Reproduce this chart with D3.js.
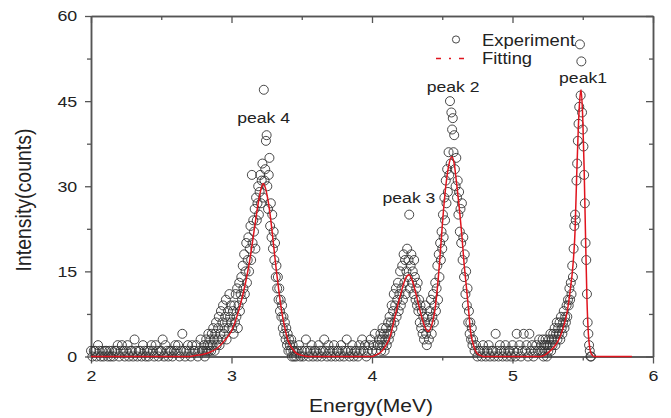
<!DOCTYPE html>
<html>
<head>
<meta charset="utf-8">
<script src="https://cdn.jsdelivr.net/npm/d3@7"></script>
<style>
  body { margin: 0; background: #fff; }
  text { font-family: "Liberation Sans", Arial, sans-serif; fill: #222; }
</style>
</head>
<body>
<script>
// energy (MeV), counts
var baseLeft = [[2.00,1],[2.01,0],[2.02,1],[2.03,1],[2.04,0],[2.05,2],[2.06,1],[2.07,0],[2.08,1],[2.09,0],
  [2.10,1],[2.11,1],[2.12,0],[2.13,1],[2.14,0],[2.15,1],[2.16,0],[2.17,1],[2.18,1],[2.19,2],
  [2.20,0],[2.21,1],[2.22,2],[2.23,1],[2.24,0],[2.25,1],[2.26,2],[2.27,0],[2.28,1],[2.29,1],
  [2.30,0],[2.31,3],[2.32,1],[2.33,0],[2.34,1],[2.35,1],[2.36,0],[2.37,2],[2.38,1],[2.39,0],
  [2.40,1],[2.41,0],[2.42,1],[2.43,2],[2.44,1],[2.45,0],[2.46,2],[2.47,1],[2.48,0],[2.49,1],
  [2.50,1],[2.51,3],[2.52,0],[2.53,2],[2.54,1],[2.55,0],[2.56,1],[2.57,1],[2.58,0],[2.59,1],
  [2.60,2],[2.61,1],[2.62,2],[2.63,0],[2.64,1],[2.65,4],[2.66,1],[2.67,0],[2.68,1],[2.69,2],
  [2.70,1],[2.71,0],[2.72,2],[2.73,1],[2.74,1],[2.75,2],[2.76,0],[2.77,1],[2.78,3],[2.79,1]];

var rise4 = [[2.800,1],[2.805,2],[2.810,0],[2.815,1],[2.820,3],[2.825,1],[2.830,2],[2.835,4],[2.840,1],[2.845,2],
  [2.850,3],[2.855,1],[2.860,4],[2.865,2],[2.870,5],[2.875,3],[2.880,1],[2.885,4],[2.890,6],[2.895,2],
  [2.900,3],[2.905,5],[2.910,7],[2.915,2],[2.920,4],[2.925,8],[2.930,3],[2.935,6],[2.940,9],[2.945,4],
  [2.950,5],[2.955,7],[2.960,10],[2.965,3],[2.970,6],[2.975,8],[2.980,5],[2.985,11],[2.990,7],[2.995,9],[3.000,6]];

var peak4 = [[3.005,5],[3.010,8],[3.015,4],[3.020,9],[3.025,6],[3.030,11],[3.035,7],[3.040,12],[3.045,5],[3.050,9],
  [3.055,13],[3.060,8],[3.065,11],[3.070,14],[3.075,10],[3.080,16],[3.085,12],[3.090,18],[3.095,11],[3.100,15],
  [3.105,20],[3.110,13],[3.115,17],[3.120,21],[3.125,15],[3.130,19],[3.135,23],[3.140,17],[3.145,32],[3.150,20],
  [3.155,24],[3.160,22],[3.165,26],[3.170,19],[3.175,28],[3.180,24],[3.185,27],[3.190,30],[3.195,25],[3.200,29],
  [3.205,32],[3.210,27],[3.215,31],[3.220,34],[3.225,28],[3.230,47],[3.235,31],[3.240,33],[3.245,38],[3.250,39],
  [3.255,30],[3.260,26],[3.265,32],[3.270,35],[3.275,23],[3.280,27],[3.285,21],[3.290,25],[3.295,19],[3.300,22],
  [3.305,17],[3.310,20],[3.315,14],[3.320,16],[3.325,12],[3.330,14],[3.335,10],[3.340,12],[3.345,8],[3.350,10],
  [3.355,7],[3.360,9],[3.365,5],[3.370,7],[3.375,4],[3.380,6],[3.385,3],[3.390,5],[3.395,2],[3.400,4],
  [3.405,1],[3.410,3],[3.415,2],[3.420,1],[3.425,3],[3.430,0],[3.435,2],[3.440,1],[3.445,0],[3.450,1]];

var valley = [[3.46,0],[3.47,1],[3.48,2],[3.49,0],[3.50,1],[3.51,0],[3.52,1],[3.53,3],[3.54,1],[3.55,0],
  [3.56,1],[3.57,2],[3.58,0],[3.59,1],[3.60,1],[3.61,0],[3.62,2],[3.63,1],[3.64,0],[3.65,1],
  [3.66,3],[3.67,1],[3.68,0],[3.69,2],[3.70,1],[3.71,0],[3.72,1],[3.73,2],[3.74,0],[3.75,1],
  [3.76,1],[3.77,0],[3.78,2],[3.79,1],[3.80,0],[3.81,1],[3.82,3],[3.83,1],[3.84,0],[3.85,1],
  [3.86,2],[3.87,0],[3.88,1],[3.89,1],[3.90,0],[3.91,2],[3.92,1],[3.93,3],[3.94,1],[3.95,2],
  [3.96,0],[3.97,1],[3.98,2],[3.99,3],[4.00,1],[4.01,2],[4.02,4],[4.03,1],[4.04,2],[4.05,3]];

var peak32 = [[4.055,2],[4.060,4],[4.065,1],[4.070,3],[4.075,5],[4.080,2],[4.085,4],[4.090,1],[4.095,3],[4.100,5],
  [4.105,2],[4.110,4],[4.115,6],[4.120,3],[4.125,7],[4.130,4],[4.135,6],[4.140,9],[4.145,5],[4.150,8],
  [4.155,11],[4.160,6],[4.165,9],[4.170,12],[4.175,7],[4.180,10],[4.185,13],[4.190,8],[4.195,11],[4.200,15],
  [4.205,9],[4.210,12],[4.215,16],[4.220,10],[4.225,18],[4.230,13],[4.235,17],[4.240,11],[4.245,15],[4.250,19],
  [4.255,14],[4.260,17],[4.265,25],[4.270,12],[4.275,16],[4.280,18],[4.285,13],[4.290,15],[4.295,11],[4.300,17],
  [4.305,14],[4.310,10],[4.315,12],[4.320,9],[4.325,13],[4.330,8],[4.335,10],[4.340,6],[4.345,9],[4.350,5],
  [4.355,8],[4.360,4],[4.365,7],[4.370,3],[4.375,6],[4.380,9],[4.385,4],[4.390,2],[4.395,7],[4.400,5],
  [4.405,3],[4.410,8],[4.415,6],[4.420,10],[4.425,4],[4.430,7],[4.435,11],[4.440,6],[4.445,9],[4.450,13],
  [4.455,8],[4.460,12],[4.465,16],[4.470,10],[4.475,18],[4.480,14],[4.485,20],[4.490,17],[4.495,22],[4.500,19],
  [4.505,25],[4.510,21],[4.515,28],[4.520,24],[4.525,31],[4.530,27],[4.535,33],[4.540,29],[4.545,36],[4.550,32],
  [4.555,45],[4.560,34],[4.565,43],[4.570,40],[4.575,42],[4.580,36],[4.585,39],[4.590,33],[4.595,30],[4.600,35],
  [4.605,28],[4.610,31],[4.615,25],[4.620,29],[4.625,22],[4.630,26],[4.635,20],[4.640,27],[4.645,17],[4.650,21],
  [4.655,14],[4.660,18],[4.665,11],[4.670,15],[4.675,9],[4.680,12],[4.685,6],[4.690,8],[4.695,4],[4.700,6],
  [4.705,3],[4.710,5],[4.715,2],[4.720,3]];

var baseMid = [[4.73,1],[4.74,2],[4.75,0],[4.76,1],[4.77,1],[4.78,0],[4.79,2],[4.80,1],[4.81,0],[4.82,1],
  [4.83,2],[4.84,0],[4.85,1],[4.86,1],[4.87,0],[4.88,4],[4.89,1],[4.90,0],[4.91,2],[4.92,1],
  [4.93,0],[4.94,1],[4.95,2],[4.96,0],[4.97,1],[4.98,1],[4.99,0],[5.00,2],[5.01,1],[5.02,0],
  [5.03,4],[5.04,1],[5.05,2],[5.06,0],[5.07,1],[5.08,4],[5.09,1],[5.10,2],[5.11,0],[5.12,4],
  [5.13,1],[5.14,2],[5.15,0],[5.16,1],[5.17,2],[5.18,1],[5.19,3],[5.20,1]];

var peak1 = [[5.205,2],[5.210,1],[5.215,3],[5.220,0],[5.225,2],[5.230,1],[5.235,3],[5.240,2],[5.245,0],[5.250,2],
  [5.255,1],[5.260,3],[5.265,2],[5.270,4],[5.275,1],[5.280,3],[5.285,2],[5.290,4],[5.295,3],[5.300,5],
  [5.305,2],[5.310,4],[5.315,6],[5.320,3],[5.325,5],[5.330,4],[5.335,6],[5.340,3],[5.345,7],[5.350,5],
  [5.355,4],[5.360,6],[5.365,8],[5.370,5],[5.375,7],[5.380,6],[5.385,9],[5.390,7],[5.395,10],[5.400,9],
  [5.405,12],[5.410,10],[5.415,13],[5.420,11],[5.425,16],[5.430,14],[5.435,19],[5.440,23],[5.445,25],[5.450,24],
  [5.455,31],[5.460,34],[5.465,38],[5.470,41],[5.475,44],[5.480,55],[5.485,46],[5.490,52],[5.495,43],[5.500,40],
  [5.505,37],[5.510,32],[5.515,27],[5.520,20],[5.525,17],[5.530,11],[5.535,6],[5.540,4],[5.545,2],[5.550,1],
  [5.555,0],[5.560,0]];

var fitting = [[2.00,0],[2.70,0],[2.75,0.2],[2.80,0.4],[2.85,0.8],[2.90,1.5],[2.95,2.8],[3.00,4.5],[3.05,8],[3.10,13],
  [3.13,17],[3.16,22],[3.19,27],[3.21,29.5],[3.225,30.5],[3.24,29.8],[3.26,27.5],[3.28,24],[3.30,19.5],[3.32,15],
  [3.34,11],[3.36,7.5],[3.38,5],[3.40,3],[3.43,1.5],[3.46,0.6],[3.50,0.2],[3.55,0],[4.00,0],[4.03,0.3],
  [4.06,0.7],[4.10,2],[4.13,3.6],[4.15,5.6],[4.175,8.2],[4.20,10.6],[4.22,12.4],[4.24,13.8],[4.263,14.4],[4.285,13.5],
  [4.305,11.8],[4.33,9.3],[4.353,7],[4.375,5.3],[4.40,4.4],[4.425,5.5],[4.448,8.2],[4.465,12],[4.484,17.6],[4.50,23],
  [4.52,28.8],[4.545,33.5],[4.567,35.2],[4.585,34],[4.60,31],[4.62,26.5],[4.638,21.8],[4.655,16.5],[4.674,11.7],[4.69,7.5],
  [4.70,4.7],[4.72,2.2],[4.735,1.1],[4.75,0.5],[4.78,0.1],[4.80,0],[5.20,0],[5.25,0.6],[5.30,1.8],[5.33,3],
  [5.36,5],[5.39,8],[5.41,11.5],[5.43,16],[5.445,22],[5.457,32],[5.468,40],[5.478,45],[5.488,47],[5.50,42],
  [5.51,33],[5.52,21],[5.53,10],[5.54,4],[5.55,1.5],[5.56,0.5],[5.58,0],[5.85,0]];

var peakLabels = [["peak 4",3.228,41.1],["peak 3",4.263,27.0],["peak 2",4.577,46.6],["peak1",5.502,48.2]];

var xTicks = [2,3,4,5,6];
var xMinor = [2.5,3.5,4.5,5.5];
var yTicks = [0,15,30,45,60];
var yMinor = [7.5,22.5,37.5,52.5];

var experiment = baseLeft.concat(rise4, peak4, valley, peak32, baseMid, peak1);

var W = 671, H = 418;
var stretch = 1.15;
var svg = d3.select("body").append("svg").attr("width", W).attr("height", H);

var x = d3.scaleLinear().domain([2,6]).range([91,653]);
var y = d3.scaleLinear().domain([0,60]).range([356.5,16]);

function styleAxis(g) {
  g.selectAll("path, line").attr("stroke", "#555").attr("stroke-width", 1.3);
  g.select(".domain").attr("stroke-width", 1.5);
}

// minor ticks
svg.append("g").attr("transform","translate(0,356.5)")
  .call(d3.axisBottom(x).tickValues(xMinor).tickSize(4).tickSizeOuter(0).tickFormat(""))
  .call(styleAxis);
svg.append("g").attr("transform","translate(0,16)")
  .call(d3.axisTop(x).tickValues(xMinor).tickSize(-4).tickSizeOuter(0).tickFormat(""))
  .call(styleAxis);
svg.append("g").attr("transform","translate(91,0)")
  .call(d3.axisLeft(y).tickValues(yMinor).tickSize(4).tickSizeOuter(0).tickFormat(""))
  .call(styleAxis);
svg.append("g").attr("transform","translate(653,0)")
  .call(d3.axisRight(y).tickValues(yMinor).tickSize(-4).tickSizeOuter(0).tickFormat(""))
  .call(styleAxis);

// major ticks
var gx = svg.append("g").attr("transform","translate(0,356.5)")
  .call(d3.axisBottom(x).tickValues(xTicks).tickSize(7).tickSizeOuter(0).tickPadding(7).tickFormat(d3.format("d")))
  .call(styleAxis);
svg.append("g").attr("transform","translate(0,16)")
  .call(d3.axisTop(x).tickValues(xTicks).tickSize(-7).tickSizeOuter(0).tickFormat(""))
  .call(styleAxis);
var gy = svg.append("g").attr("transform","translate(91,0)")
  .call(d3.axisLeft(y).tickValues(yTicks).tickSize(6).tickSizeOuter(0).tickPadding(6).tickFormat(d3.format("d")))
  .call(styleAxis);
svg.append("g").attr("transform","translate(653,0)")
  .call(d3.axisRight(y).tickValues(yTicks).tickSize(-7).tickSizeOuter(0).tickFormat(""))
  .call(styleAxis);

[gx, gy].forEach(function(g){
  g.selectAll("text")
    .attr("font-family", "Liberation Sans, Arial, sans-serif")
    .attr("font-size", 15.5)
    .attr("fill", "#222")
    .attr("transform", "scale(" + stretch + ",1)");
});

// experiment points
svg.append("g").selectAll("circle")
  .data(experiment)
  .enter().append("circle")
  .attr("cx", function(d){ return x(d[0]); })
  .attr("cy", function(d){ return y(d[1]); })
  .attr("r", 4.5)
  .attr("fill", "none")
  .attr("stroke", "#333")
  .attr("stroke-width", 0.9);

// fitting curve
var line = d3.line()
  .curve(d3.curveMonotoneX)
  .x(function(d){ return x(d[0]); })
  .y(function(d){ return y(d[1]); });

svg.append("path")
  .datum(fitting)
  .attr("fill", "none")
  .attr("stroke", "#e0141e")
  .attr("stroke-width", 1.5)
  .attr("d", line);

// peak labels
svg.selectAll(".plabel")
  .data(peakLabels)
  .enter().append("text")
  .attr("class", "plabel")
  .attr("text-anchor", "middle")
  .attr("font-size", 15.3)
  .attr("transform", function(d){ return "translate(" + x(d[1]) + "," + y(d[2]) + ") scale(" + stretch + ",1)"; })
  .text(function(d){ return d[0]; });

// legend
var leg = svg.append("g");
leg.append("circle").attr("cx", 456).attr("cy", 39.5).attr("r", 3.6)
  .attr("fill", "none").attr("stroke", "#333").attr("stroke-width", 0.9);
leg.append("text").attr("transform", "translate(482,46) scale(" + stretch + ",1)")
  .attr("font-size", 16).text("Experiment");
leg.append("line").attr("x1", 436).attr("x2", 471).attr("y1", 58.5).attr("y2", 58.5)
  .attr("stroke", "#e0141e").attr("stroke-width", 1.5).attr("stroke-dasharray", "5,8,2,8");
leg.append("text").attr("transform", "translate(482,63.5) scale(" + stretch + ",1)")
  .attr("font-size", 16).text("Fitting");

// axis titles
svg.append("text")
  .attr("text-anchor", "middle")
  .attr("font-size", 18.3)
  .attr("transform", "translate(371,412) scale(" + stretch + ",1)")
  .text("Energy(MeV)");

svg.append("text")
  .attr("text-anchor", "middle")
  .attr("font-size", 19.5)
  .attr("transform", "translate(31,200) scale(" + stretch + ",1) rotate(-90)")
  .text("Intensity(counts)");
</script>
</body>
</html>
